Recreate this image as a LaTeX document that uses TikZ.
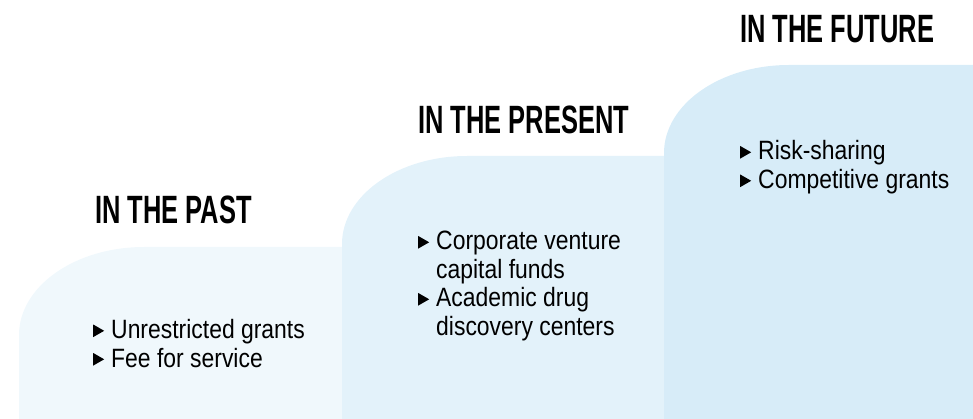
\documentclass[tikz,border=0pt]{standalone}
\usepackage{fontspec}
\setmainfont{Liberation Sans}
\newfontfamily\headfont[FakeStretch=0.645]{Liberation Sans Bold}
\newfontfamily\bodyfont[FakeStretch=0.865]{Liberation Sans}
\definecolor{pastc}{RGB}{240,248,252}
\definecolor{presc}{RGB}{227,242,250}
\definecolor{futc}{RGB}{215,236,248}
\newcommand\bul{\tikz[x=1pt,y=1pt,baseline=0pt]\fill[black] (0,1.4) -- (0,14) -- (11,7.7) -- cycle;}
\newcommand\blist[1]{\begin{tabular}[t]{@{}l@{\hspace{7pt}}l@{}}#1\end{tabular}}
\tikzset{
  heading/.style={anchor=base west, inner sep=0pt, font=\headfont\fontsize{39.5}{44}\selectfont},
  items/.style={anchor=base west, inner sep=0pt, font=\bodyfont\fontsize{26.5}{28.5}\selectfont},
}
\begin{document}
\begin{tikzpicture}[x=1pt,y=-1pt]
\useasboundingbox (0,0) rectangle (973,419);
% step shapes
\fill[pastc] (19,419) -- (19,335) .. controls (19,286.4) and (75,247) .. (144,247) -- (700,247) -- (700,419) -- cycle;
\fill[presc] (342,419) -- (342,244) .. controls (342,195.4) and (398,156) .. (467,156) -- (800,156) -- (800,419) -- cycle;
\fill[futc] (664,419) -- (664,153) .. controls (664,104.4) and (720,65) .. (789,65) -- (973,65) -- (973,419) -- cycle;
% headings
\node[heading] (hpast) at (95,224) {IN THE PAST};
\node[heading] (hpres) at (418,134) {IN THE PRESENT};
\node[heading] (hfut) at (740,43) {IN THE FUTURE};
% bullet lists
\node[items] (lpast) at (93,338.5) {\blist{\bul & Unrestricted grants\\ \bul & Fee for service}};
\node[items] (lpres) at (418,250) {\blist{\bul & Corporate venture\\ & capital funds\\ \bul & Academic drug\\ & discovery centers}};
\node[items] (lfut) at (740,160) {\blist{\bul & Risk-sharing\\ \bul & Competitive grants}};
\end{tikzpicture}
\end{document}
